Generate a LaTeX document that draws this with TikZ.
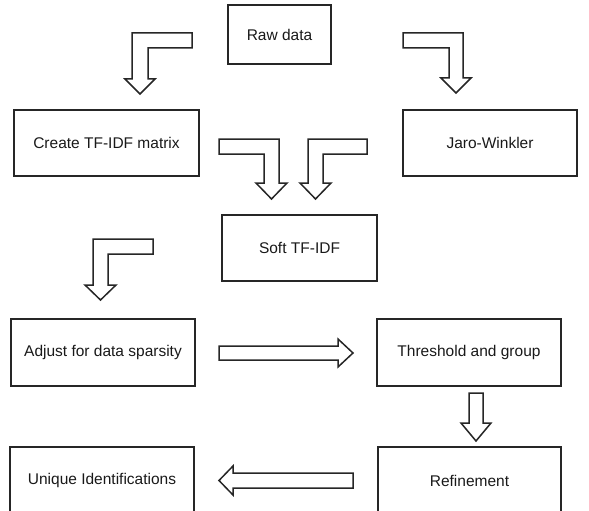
\documentclass[tikz,border=0pt]{standalone}
\usepackage{fontspec}
\setmainfont{Liberation Sans}
\begin{document}
\begin{tikzpicture}[x=1pt,y=-1pt,
  box/.style={draw=black!85, line width=1.15pt, inner sep=0pt, font=\fontsize{15.5}{18}\selectfont, text=black!90},
  blockarrow/.style={draw=black!85, line width=1.5pt, fill=white, line join=miter}]
\useasboundingbox (0,0) rectangle (589,511);
\clip (0,0) rectangle (589,511);
% boxes
\node[box, minimum width=103, minimum height=59] (raw) at (279.5,34.5) {Raw data};
\node[box, minimum width=185, minimum height=66] (tfidf) at (106.5,143) {Create TF-IDF matrix};
\node[box, minimum width=174, minimum height=66] (jaro) at (490,143) {Jaro-Winkler};
\node[box, minimum width=155, minimum height=66] (soft) at (299.5,248) {Soft TF-IDF};
\node[box, minimum width=184, minimum height=67] (adjust) at (103,352.5) {Adjust for data sparsity};
\node[box, minimum width=184, minimum height=67] (thresh) at (469,352.5) {Threshold and group};
\node[box, minimum width=183, minimum height=67] (refine) at (469.5,480.5) {Refinement};
\node[box, minimum width=184, minimum height=67] (unique) at (102,480.5) {Unique Identifications};
% block arrows
% raw -> tfidf
\draw[blockarrow] (192,33) -- (132,33) -- (132,79) -- (125,79) -- (140,94) -- (155,79) -- (148,79) -- (148,48) -- (192,48) -- cycle;
% raw -> jaro
\draw[blockarrow] (403,33) -- (463,33) -- (463,78) -- (471,78) -- (456,93) -- (441,78) -- (449,78) -- (449,48) -- (403,48) -- cycle;
% tfidf -> soft
\draw[blockarrow] (219,139) -- (279,139) -- (279,183) -- (287,183) -- (271.5,199) -- (256,183) -- (264,183) -- (264,154) -- (219,154) -- cycle;
% jaro -> soft
\draw[blockarrow] (367,139) -- (308,139) -- (308,183) -- (300,183) -- (315.5,199) -- (331,183) -- (323,183) -- (323,154) -- (367,154) -- cycle;
% soft -> adjust
\draw[blockarrow] (153,239) -- (93,239) -- (93,285) -- (85,285) -- (100.5,300) -- (116,285) -- (108,285) -- (108,254) -- (153,254) -- cycle;
% adjust -> thresh
\draw[blockarrow] (219,346) -- (338,346) -- (338,339) -- (353,353) -- (338,367) -- (338,360) -- (219,360) -- cycle;
% thresh -> refine
\draw[blockarrow] (469,393) -- (483,393) -- (483,423) -- (491,423) -- (476,441) -- (461,423) -- (469,423) -- cycle;
% refine -> unique
\draw[blockarrow] (353,473) -- (233,473) -- (233,466) -- (219,480.5) -- (233,495) -- (233,488) -- (353,488) -- cycle;
\end{tikzpicture}
\end{document}
